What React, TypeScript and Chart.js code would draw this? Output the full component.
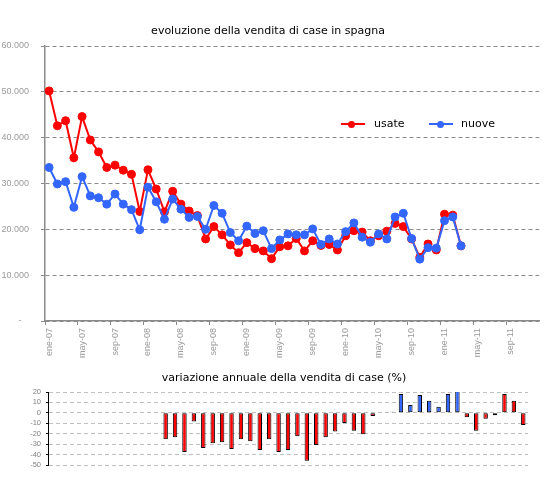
import React, { useEffect, useRef } from 'react';
import { Chart, registerables } from 'chart.js';

Chart.register(...registerables);

const MONTHS = ['ene', 'feb', 'mar', 'abr', 'may', 'jun', 'jul', 'ago', 'sep', 'oct', 'nov', 'dic'];
const YEARS = ['07', '08', '09', '10', '11'];
const axisMonths: string[] = YEARS.flatMap((y) => MONTHS.map((m) => `${m}-${y}`));

// vendita di case usate (ene-07 .. mar-11)
const usate = [
  50200, 42600, 43700, 35600, 44600, 39500, 36900, 33500, 34000, 32900, 32000, 23900,
  33000, 28800, 23800, 28300, 25500, 24000, 23000, 17900, 20600, 18800, 16600, 14900,
  17100, 15800, 15300, 13600, 16200, 16400, 18000, 15300, 17500, 16500, 16700, 15500,
  18600, 19700, 19400, 17500, 18600, 19600, 21300, 20600, 17900, 13900, 16800, 15500,
  23300, 23100, 16400,
];

// vendita di case nuove (ene-07 .. mar-11)
const nuove = [
  33500, 29900, 30400, 24800, 31500, 27300, 26900, 25500, 27700, 25500, 24300, 19900,
  29200, 26000, 22200, 26600, 24400, 22600, 22800, 20000, 25200, 23500, 19300, 17500,
  20700, 19100, 19700, 15800, 17700, 19000, 18800, 18800, 20100, 16700, 17900, 16800,
  19500, 21400, 18300, 17200, 19000, 17900, 22700, 23500, 18000, 13500, 16000, 15900,
  21900, 22700, 16400,
];

// variazione annuale (%) (ene-07 .. mar-11)
const variazione: (number | null)[] = [
  null, null, null, null, null, null, null, null, null, null, null, null,
  -25.3, -23.4, -37.5, -8.4, -33.8, -29.1, -28.1, -34.7, -25.3, -27.2, -35.6, -25.3,
  -37.5, -35.6, -22.5, -45.9, -30.9, -23.4, -17.8, -9.7, -17.2, -20.6, -3.1, null,
  1, 18.1, 7.5, 17.2, 11.6, 5.9, 18.1, 22.4, -4.1, -17.2, -5.6, -2.2,
  18.1, 11.6, -11.6,
];

const barMonths = axisMonths.slice(0, variazione.length);

const RED = '#ff0000';
const BLUE = '#3366ff';
const GRAY = '#8a8a8a';
const barColors = variazione.map((_, i) => (i >= 36 && i <= 43 ? BLUE : RED));

export default function App() {
  const topRef = useRef<HTMLCanvasElement | null>(null);
  const botRef = useRef<HTMLCanvasElement | null>(null);

  useEffect(() => {
    if (!topRef.current || !botRef.current) return;
    const top = new Chart(topRef.current, {
      type: 'line',
      data: {
        labels: axisMonths,
        datasets: [
          {
            label: 'usate',
            data: usate,
            borderColor: RED,
            backgroundColor: RED,
            pointBackgroundColor: RED,
            pointBorderColor: RED,
            pointRadius: 4,
            pointBorderWidth: 1,
            borderWidth: 2,
            tension: 0,
            order: 1,
          },
          {
            label: 'nuove',
            data: nuove,
            borderColor: BLUE,
            backgroundColor: BLUE,
            pointBackgroundColor: BLUE,
            pointBorderColor: BLUE,
            pointRadius: 4,
            pointBorderWidth: 1,
            borderWidth: 2,
            tension: 0,
            order: 0,
          },
        ],
      },
      options: {
        animation: false,
        responsive: false,
        devicePixelRatio: 1,
        layout: { padding: { top: 46, right: 9, left: 0, bottom: 0 } },
        plugins: { legend: { display: false }, title: { display: false }, tooltip: { enabled: false } },
        scales: {
          x: {
            type: 'category',
            offset: true,
            grid: {
              offset: true,
              drawOnChartArea: false,
              drawTicks: true,
              tickLength: 4,
              lineWidth: 1,
              color: (ctx: any) => (typeof ctx.index === 'number' && ctx.index % 4 === 0 ? GRAY : 'rgba(0,0,0,0)'),
            },
            border: { color: GRAY, width: 1.5 },
            ticks: {
              autoSkip: false,
              maxRotation: 90,
              minRotation: 90,
              padding: 3,
              color: '#9a9a9a',
              font: { family: 'Liberation Sans', size: 9 },
              callback: (_v: any, i: number) => (i % 4 === 0 ? axisMonths[i] : ''),
            },
            afterFit: (s: any) => {
              s.height = 39;
            },
          },
          y: {
            min: 0,
            max: 60000,
            ticks: {
              stepSize: 10000,
              padding: 12,
              color: '#9a9a9a',
              font: { family: 'Liberation Sans', size: 9 },
              callback: (v: any) => (Number(v) === 0 ? '-   ' : `${Number(v) / 1000}.000`),
            },
            grid: { color: GRAY, lineWidth: 1, tickLength: 4 },
            border: { color: GRAY, width: 1.5, dash: [4, 3] },
            afterFit: (s: any) => {
              s.width = 45;
            },
          },
        },
      },
    });

    const bot = new Chart(botRef.current, {
      type: 'bar',
      data: {
        labels: barMonths,
        datasets: [
          {
            data: variazione,
            backgroundColor: barColors,
            borderColor: '#000000',
            borderWidth: 1,
            borderSkipped: false,
            barPercentage: 0.47,
            categoryPercentage: 1,
          },
        ],
      },
      options: {
        animation: false,
        responsive: false,
        devicePixelRatio: 1,
        layout: { padding: { top: 32, right: 21, bottom: 15, left: 0 } },
        plugins: { legend: { display: false }, title: { display: false }, tooltip: { enabled: false } },
        scales: {
          x: { display: false, offset: true },
          y: {
            min: -50,
            max: 20,
            ticks: {
              stepSize: 10,
              autoSkip: false,
              padding: 5,
              color: '#808080',
              font: { family: 'Liberation Sans', size: 7.5 },
            },
            grid: { color: '#c0c0c0', lineWidth: 1, tickLength: 2, tickColor: '#000000' },
            border: { color: '#000000', width: 1, dash: [4, 3] },
            afterFit: (s: any) => {
              s.width = 48;
            },
          },
        },
      },
    });

    return () => {
      top.destroy();
      bot.destroy();
    };
  }, []);

  const txt: React.CSSProperties = {
    position: 'absolute',
    fontFamily: '"DejaVu Sans"',
    fontSize: '11px',
    lineHeight: '13px',
    color: '#000',
    whiteSpace: 'nowrap',
  };

  return (
    <div style={{ position: 'absolute', left: 0, top: 0, width: 549, height: 480, background: '#fff' }}>
      <canvas ref={topRef} width={549} height={360} style={{ position: 'absolute', left: 0, top: 0, width: 549, height: 360 }} />
      <canvas ref={botRef} width={549} height={120} style={{ position: 'absolute', left: 0, top: 360, width: 549, height: 120 }} />
      <div style={{ ...txt, left: 0, top: 23.5, width: 536, textAlign: 'center' }}>
        evoluzione della vendita di case in spagna
      </div>
      <div style={{ ...txt, left: 0, top: 370.5, width: 568, textAlign: 'center' }}>
        variazione annuale della vendita di case (%)
      </div>
      <div style={{ position: 'absolute', left: 341, top: 123, width: 24, height: 2, background: RED }} />
      <div style={{ position: 'absolute', left: 348, top: 120.5, width: 7, height: 7, borderRadius: '50%', background: RED }} />
      <div style={{ ...txt, left: 374, top: 116.5 }}>usate</div>
      <div style={{ position: 'absolute', left: 429, top: 123, width: 24, height: 2, background: BLUE }} />
      <div style={{ position: 'absolute', left: 436.5, top: 120.5, width: 7, height: 7, borderRadius: '50%', background: BLUE }} />
      <div style={{ ...txt, left: 461, top: 116.5 }}>nuove</div>
    </div>
  );
}
